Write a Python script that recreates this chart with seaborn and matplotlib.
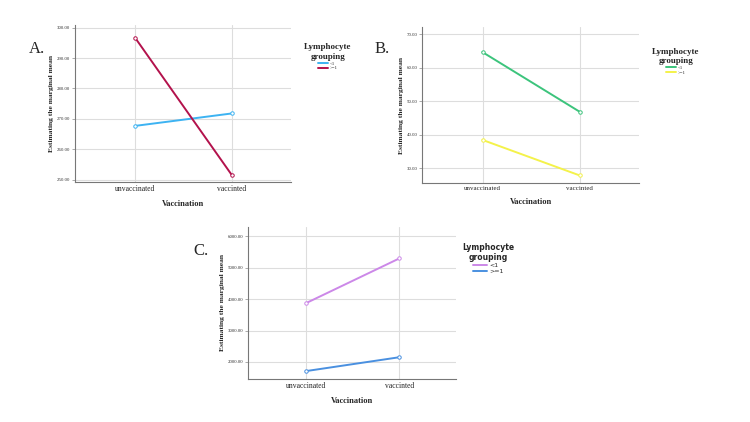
import numpy as np
import pandas as pd
import seaborn as sns
import matplotlib as mpl
import matplotlib.pyplot as plt

# data
vaccination = ['unvaccinated', 'vaccinted']
groups = ['<1', '>=1']

a_lt1 = [267.7, 271.8]
a_ge1 = [296.7, 251.5]
b_lt1 = [64.6, 46.8]
b_ge1 = [38.4, 27.8]
c_lt1 = [3870, 5290]
c_ge1 = [1710, 2150]

a_ticks = [250, 260, 270, 280, 290, 300]
b_ticks = [30, 40, 50, 60, 70]
c_ticks = [2000, 3000, 4000, 5000, 6000]

sns.set_style('white')
plt.rcParams['font.family'] = ['Liberation Serif', 'DejaVu Serif']

fig = plt.figure(figsize=(7.5, 4.22), dpi=100)

panels = [
    # letter, values, colors, ticks, ylim, axes rect, letter pos, legend pos, xtick size, legend font
    ('A.', a_lt1, a_ge1, ['#3db3f2', '#b3124c'], a_ticks, (249.3, 300.9),
     [0.100, 0.569, 0.288, 0.372], (0.038, 0.885), (0.437, 0.905), 5.5, 'serif'),
    ('B.', b_lt1, b_ge1, ['#3cc47c', '#f4f24a'], b_ticks, (25.5, 72.1),
     [0.563, 0.566, 0.289, 0.370], (0.500, 0.885), (0.901, 0.895), 5, 'serif'),
    ('C.', c_lt1, c_ge1, ['#cc88e8', '#4a90e0'], c_ticks, (1460, 6290),
     [0.331, 0.102, 0.277, 0.360], (0.258, 0.405), (0.651, 0.435), 5.5, 'sans'),
]

for (letter, lt1, ge1, cols, ticks, ylim, rect, lpos, legpos,
     xtsize, legfont) in panels:
    ax = fig.add_axes(rect)
    df = pd.DataFrame({
        'Vaccination': vaccination * 2,
        'mean': lt1 + ge1,
        'group': [groups[0]] * 2 + [groups[1]] * 2,
    })
    sns.lineplot(data=df, x='Vaccination', y='mean', hue='group',
                 palette=dict(zip(groups, cols)), marker='o', markersize=2.5,
                 linewidth=1.4, ax=ax, legend=False)
    # hollow markers in the line colour
    for line in ax.lines:
        line.set_markeredgecolor(line.get_color())
        line.set_markerfacecolor('white')
        line.set_markeredgewidth(0.7)
    ax.set_xlim(-0.62, 1.61)
    ax.set_ylim(ylim)
    ax.set_yticks(ticks)
    ax.set_yticklabels(['%.2f' % t for t in ticks], fontsize=3.5, color='#333333')
    ax.tick_params(axis='x', labelsize=xtsize, length=0, pad=2)
    ax.tick_params(axis='y', length=2, width=0.5, pad=1.5, left=True, color='#888888')
    # grid lines
    ax.grid(True, color='#dddddd', linewidth=0.8)
    ax.set_axisbelow(True)
    ax.spines['top'].set_visible(False)
    ax.spines['right'].set_visible(False)
    ax.spines['left'].set_color('#777777')
    ax.spines['bottom'].set_color('#777777')
    ax.spines['left'].set_linewidth(0.8)
    ax.spines['bottom'].set_linewidth(0.8)
    ax.set_xlabel('Vaccination', fontsize=6, fontweight='bold', labelpad=5)
    ax.set_ylabel('Estimating the marginal mean', fontsize=5.4, fontweight='bold', labelpad=2)
    fig.text(lpos[0], lpos[1], letter, fontsize=12, ha='left', va='center')

    # legend
    handles = [mpl.lines.Line2D([0], [0], color=c, linewidth=1.4) for c in cols]
    if legfont == 'sans':
        tprops = {'family': 'DejaVu Sans', 'weight': 'bold', 'size': 5.5}
        lprops = {'family': 'DejaVu Sans', 'size': 4.5}
    else:
        tprops = {'family': 'Liberation Serif', 'weight': 'bold', 'size': 6.5}
        lprops = {'family': 'Liberation Serif', 'size': 3.5}
    leg = fig.legend(handles, groups, loc='upper center', bbox_to_anchor=legpos,
                     title='Lymphocyte\ngrouping', title_fontproperties=tprops,
                     prop=lprops, frameon=False, handlelength=2.2,
                     handletextpad=0.3, labelspacing=0.1, borderpad=0.2)
    leg._legend_box.align = 'center'
    leg.get_title().set_multialignment('center')

fig.savefig('out.png', dpi=100)
